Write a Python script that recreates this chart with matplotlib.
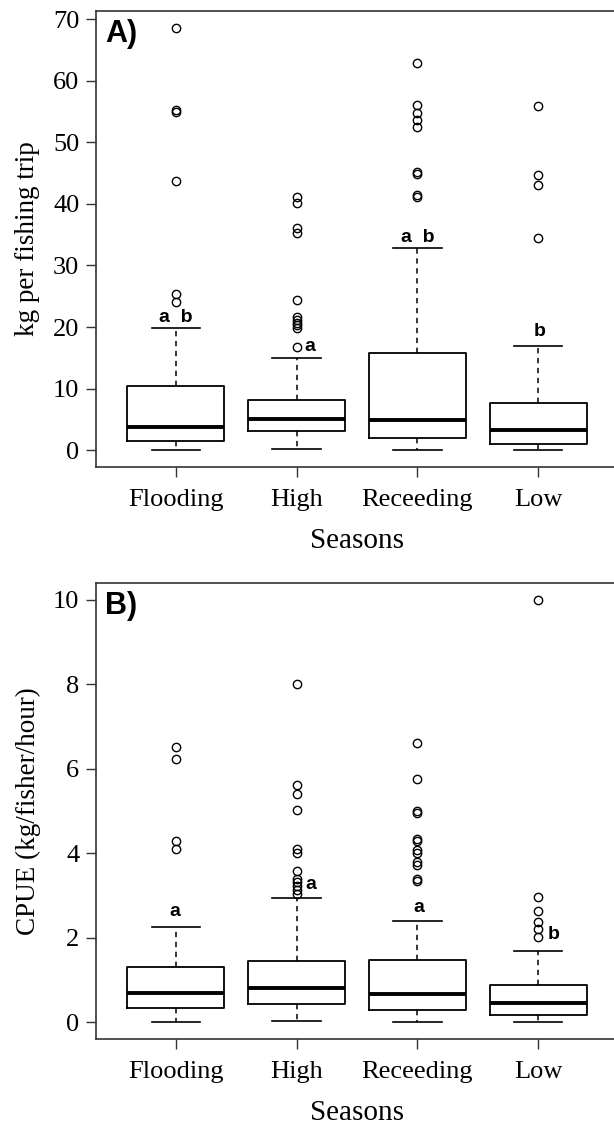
import matplotlib
matplotlib.use("Agg")
import matplotlib.pyplot as plt

seasons = ["Flooding", "High", "Receeding", "Low"]

# panel A: kg per fishing trip
kg_whislo = [0.0, 0.2, 0.0, 0.0]
kg_q1 = [1.5, 3.05, 1.9, 1.0]
kg_med = [3.8, 5.0, 4.85, 3.2]
kg_q3 = [10.4, 8.2, 15.7, 7.65]
kg_whishi = [19.9, 15.0, 32.9, 16.9]
kg_fliers = [
    [68.6, 55.3, 54.9, 43.7, 25.3, 24.1],
    [41.1, 40.1, 36.1, 35.2, 24.4, 21.6, 21.2, 20.7, 20.3, 19.9, 16.8],
    [62.9, 56.0, 54.8, 53.7, 52.5, 45.2, 44.8, 41.4, 41.1],
    [55.9, 44.7, 43.0, 34.5],
]
kg_letters = ["a  b", "a", "a  b", "b"]
kg_letter_x = [1.0, 2.11, 3.0, 4.01]
kg_letter_y = [21.6, 16.8, 34.6, 19.3]

# panel B: CPUE
cpue_whislo = [0.0, 0.02, 0.0, 0.0]
cpue_q1 = [0.34, 0.44, 0.29, 0.17]
cpue_med = [0.69, 0.80, 0.66, 0.45]
cpue_q3 = [1.30, 1.44, 1.46, 0.88]
cpue_whishi = [2.26, 2.93, 2.40, 1.68]
cpue_fliers = [
    [6.51, 6.24, 4.30, 4.10],
    [8.0, 5.61, 5.41, 5.02, 4.10, 4.01, 3.58, 3.39, 3.31, 3.22, 3.13, 3.04],
    [6.60, 5.76, 5.0, 4.96, 4.33, 4.29, 4.07, 4.00, 3.80, 3.71, 3.39, 3.34],
    [10.0, 2.96, 2.62, 2.38, 2.20, 2.01],
]
cpue_letters = ["a", "a", "a", "b"]
cpue_letter_x = [0.99, 2.12, 3.01, 4.13]
cpue_letter_y = [2.63, 3.26, 2.72, 2.07]

serif = ["Liberation Serif", "DejaVu Serif"]
sans = ["Liberation Sans", "DejaVu Sans"]

W, H = 614, 1125
fig = plt.figure(figsize=(W / 100, H / 100), dpi=100)


def panel(top, bottom, whislo, q1, med, q3, whishi, fliers, letters, lx, ly,
          ylabel, yticks, tag):
    ax = fig.add_axes([96 / W, 1 - bottom / H, 522 / W, (bottom - top) / H])
    stats = []
    for i in range(len(seasons)):
        stats.append(dict(whislo=whislo[i], q1=q1[i], med=med[i], q3=q3[i],
                          whishi=whishi[i], fliers=fliers[i], label=seasons[i]))
    ax.bxp(stats, positions=range(1, 5), widths=0.8, capwidths=0.4,
           patch_artist=False,
           boxprops=dict(color="black", linewidth=1.3),
           medianprops=dict(color="black", linewidth=2.8, solid_capstyle="butt"),
           whiskerprops=dict(color="black", linewidth=1.1, linestyle=(0, (3.5, 3))),
           capprops=dict(color="black", linewidth=1.2),
           flierprops=dict(marker="o", markerfacecolor="none",
                           markeredgecolor="black", markersize=6, markeredgewidth=1.0))
    allv = [v for f in fliers for v in f] + list(whislo) + list(whishi)
    lo, hi = min(allv), max(allv)
    pad = (hi - lo) * 0.04
    ax.set_ylim(lo - pad, hi + pad)
    ax.set_xlim(0.34, 4.66)
    ax.set_yticks(yticks)
    ax.set_xticks(range(1, 5))
    ax.set_xticklabels(seasons, family=serif, fontsize=19)
    for t in ax.get_yticklabels():
        t.set_family(serif)
        t.set_fontsize(19)
    ax.tick_params(axis="both", direction="out", length=7, width=1.0, color="#333333")
    ax.tick_params(axis="x", pad=9)
    ax.tick_params(axis="y", pad=5)
    for s in ax.spines.values():
        s.set_linewidth(1.2)
        s.set_color("#333333")
    ax.set_xlabel("Seasons", family=serif, fontsize=21, labelpad=12)
    ax.set_ylabel(ylabel, family=serif, fontsize=19.5, va="center")
    ax.yaxis.set_label_coords((28 - 96) / 522, 0.5)
    for t, x, y in zip(letters, lx, ly):
        ax.text(x, y, t, family=sans, fontweight="bold", fontsize=14,
                ha="center", va="center")
    ax.text(0.018, 0.982, tag, transform=ax.transAxes, family=sans,
            fontweight="bold", fontsize=22, ha="left", va="top")
    return ax


panel(11, 467, kg_whislo, kg_q1, kg_med, kg_q3, kg_whishi, kg_fliers,
      kg_letters, kg_letter_x, kg_letter_y, "kg per fishing trip",
      range(0, 71, 10), "A)")
panel(583, 1039, cpue_whislo, cpue_q1, cpue_med, cpue_q3, cpue_whishi, cpue_fliers,
      cpue_letters, cpue_letter_x, cpue_letter_y, "CPUE (kg/fisher/hour)",
      range(0, 11, 2), "B)")

fig.savefig("out.png", dpi=100)
